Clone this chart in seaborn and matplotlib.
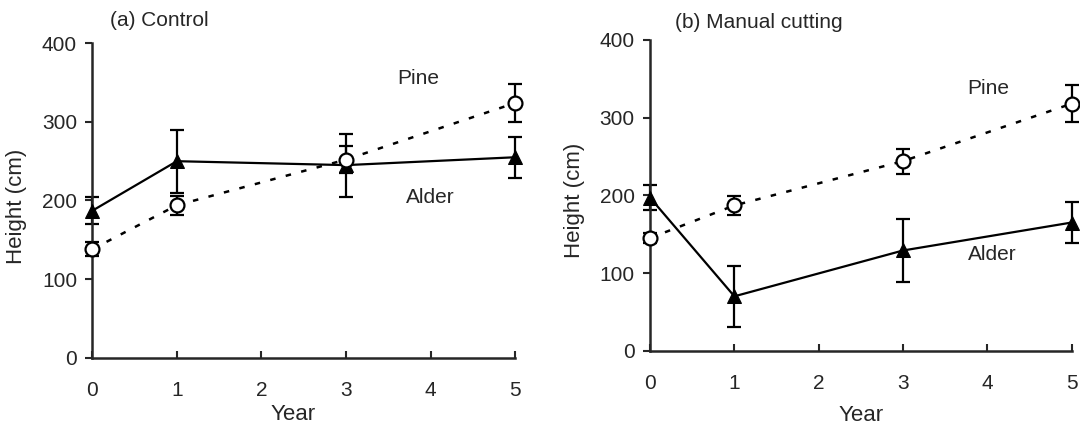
import numpy as np
import matplotlib
matplotlib.use('Agg')
from matplotlib import pyplot as plt
import seaborn as sns

# values (cm)
years = [0, 1, 3, 5]

control_pine = [138, 194, 252, 324]
control_pine_se = [9, 12, 17, 24]
control_alder = [187, 250, 245, 255]
control_alder_se = [17, 40, 40, 26]

cut_pine = [145, 187, 244, 318]
cut_pine_se = [7, 12, 16, 24]
cut_alder = [197, 70, 129, 165]
cut_alder_se = [16, 39, 40, 26]

titles = ['(a) Control', '(b) Manual cutting']
x_ticks = [0, 1, 2, 3, 4, 5]
y_ticks = [0, 100, 200, 300, 400]

sns.set_style('ticks')
plt.rcParams['font.family'] = ['Liberation Sans', 'DejaVu Sans']
FS = 15
LFS = 16

fig = plt.figure(figsize=(10.8, 4.24), dpi=100)
ax_a = fig.add_axes([0.0855, 0.1564, 0.3914, 0.7415])
ax_b = fig.add_axes([0.6019, 0.1729, 0.3904, 0.7328])


def draw_panel(ax, pine, pine_se, alder, alder_se):
    # caps are drawn with markersize = 2*capsize
    ax.errorbar(years, alder, yerr=alder_se, fmt='none', ecolor='black',
                elinewidth=1.6, capsize=5, capthick=1.6, clip_on=False, zorder=2)
    ax.errorbar(years, pine, yerr=pine_se, fmt='none', ecolor='black',
                elinewidth=1.6, capsize=5, capthick=1.6, clip_on=False, zorder=2)
    sns.lineplot(x=years, y=alder, ax=ax, color='black', linewidth=1.6,
                 marker='^', markersize=9.5, markerfacecolor='black',
                 markeredgecolor='black', clip_on=False, zorder=3)
    sns.lineplot(x=years, y=pine, ax=ax, color='black', linewidth=1.8,
                 linestyle=(0, (2.2, 4.2)), marker='o', markersize=10,
                 markerfacecolor='white', markeredgecolor='black',
                 markeredgewidth=1.6, clip_on=False, zorder=4)
    ax.set_xlim(0, 5)
    ax.set_ylim(0, 400)
    ax.set_xticks(x_ticks)
    ax.set_yticks(y_ticks)
    ax.tick_params(axis='y', direction='out', length=5, width=1.5, pad=6, labelsize=FS)
    ax.tick_params(axis='x', direction='in', length=5, width=1.5, pad=17, labelsize=FS)
    for s in ['left', 'bottom']:
        ax.spines[s].set_linewidth(1.8)
    sns.despine(ax=ax)
    ax.set_ylabel('Height (cm)', fontsize=LFS)
    ax.set_xlabel('Year', fontsize=LFS)


draw_panel(ax_a, control_pine, control_pine_se, control_alder, control_alder_se)
draw_panel(ax_b, cut_pine, cut_pine_se, cut_alder, cut_alder_se)

ax_a.text(0.042, 1.074, titles[0], transform=ax_a.transAxes, fontsize=FS, va='center', ha='left')
ax_b.text(0.06, 1.056, titles[1], transform=ax_b.transAxes, fontsize=FS, va='center', ha='left')

ax_a.text(3.86, 355, 'Pine', fontsize=FS, ha='center', va='center')
ax_a.text(4.0, 204, 'Alder', fontsize=FS, ha='center', va='center')
ax_b.text(4.01, 338, 'Pine', fontsize=FS, ha='center', va='center')
ax_b.text(4.06, 124, 'Alder', fontsize=FS, ha='center', va='center')

ax_a.yaxis.set_label_coords(-0.155, 0.48)
ax_b.yaxis.set_label_coords(-0.154, 0.485)
ax_a.xaxis.set_label_coords(0.475, -0.147)
ax_b.xaxis.set_label_coords(0.50, -0.175)

fig.savefig('out.png', dpi=100)
